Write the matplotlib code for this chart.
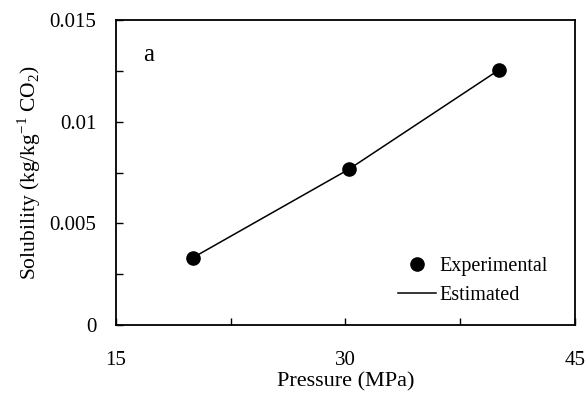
import numpy as np
import matplotlib
matplotlib.use("Agg")
import matplotlib.pyplot as plt
from matplotlib.lines import Line2D

# data
pressure = [20.0, 30.2, 40.0]
solubility_exp = [0.0033, 0.00765, 0.01253]
solubility_est = [0.0033, 0.00765, 0.01253]

x_labels = ["15", "30", "45"]
y_labels = ["0", "0.005", "0.01", "0.015"]

plt.rcParams['font.family'] = ['Liberation Serif', 'DejaVu Serif']
plt.rcParams['mathtext.fontset'] = 'custom'
plt.rcParams['mathtext.rm'] = 'Liberation Serif'

fig = plt.figure(figsize=(5.86, 3.94), dpi=100)
ax = fig.add_axes([116 / 586, 1 - 325 / 394, 459 / 586, 305 / 394])

ax.plot(pressure, solubility_est, color="black", lw=1.1, zorder=2)
ax.plot(pressure, solubility_exp, "o", color="black", ms=9.5, zorder=3)

ax.set_xlim(15, 45)
ax.set_ylim(0, 0.015)
ax.set_xticks([15, 30, 45])
ax.set_xticklabels(x_labels)
ax.set_xticks([22.5, 37.5], minor=True)
ax.set_yticks([0, 0.005, 0.01, 0.015])
ax.set_yticklabels(y_labels)
ax.set_yticks([0.0025, 0.0075, 0.0125], minor=True)

ax.tick_params(which="both", direction="in", length=5, width=1, labelsize=15)
ax.tick_params(axis="x", which="major", pad=19)
ax.tick_params(axis="y", which="major", pad=14)
for s in ax.spines.values():
    s.set_linewidth(1.3)

ax.set_xlabel("Pressure (MPa)", fontsize=16, labelpad=1)
ax.set_ylabel(r"Solubility (kg/kg$^{\mathrm{-1}}$ CO$_{\mathrm{2}}$)", fontsize=15.5, labelpad=5)

# panel letter
ax.text(0.072, 0.885, "a", transform=ax.transAxes, fontsize=18, ha="center", va="center")

handles = [
    Line2D([], [], color="black", marker="o", ls="none", ms=9.5),
    Line2D([], [], color="black", lw=1.1),
]
ax.legend(handles, ["Experimental", "Estimated"], loc="lower right",
          frameon=False, fontsize=14.5, handlelength=1.9, handletextpad=0.15,
          labelspacing=0.5, borderpad=0, borderaxespad=0,
          bbox_to_anchor=(0.94, 0.065))

fig.savefig("out.png", dpi=100)
